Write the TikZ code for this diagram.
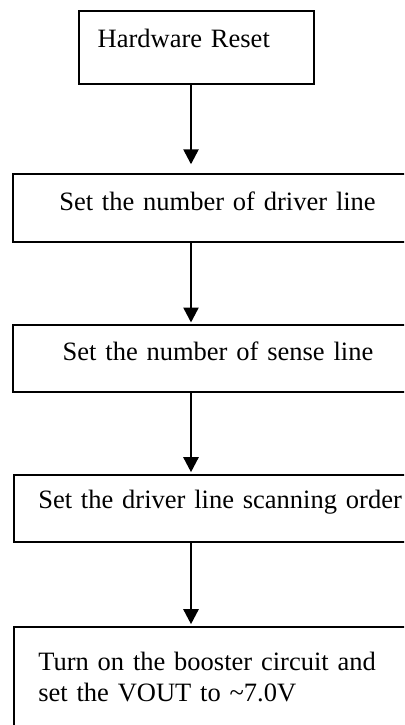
\documentclass[tikz,border=0pt]{standalone}
\usepackage{fontspec}
\setmainfont{Liberation Serif}
\usepackage{tikz}
\usetikzlibrary{arrows.meta}

\tikzset{
  stepbox/.style={draw,line width=2pt,anchor=north west,inner ysep=0pt,align=left,text width=380pt,
    font=\fontsize{26.5}{31}\selectfont},
  flow/.style={-{Triangle[length=15pt,width=15pt]},line width=2.5pt}
}

\begin{document}
\begin{tikzpicture}[x=1pt,y=-1pt]
      \path[use as bounding box,clip](0,0) rectangle (404,725);%枠
      \coordinate (spine) at (191,0);%矢印の軸
      \node[stepbox,inner xsep=19pt,text width=197pt,text height=36.7pt,text depth=36pt] (reset) at (77.7,10) {Hardware Reset};
      \node[stepbox,inner xsep=46.6pt,text height=36.2pt,text depth=31.5pt] (drvnum) at (11.7,173.3) {Set the number of driver line};
      \node[stepbox,inner xsep=50pt,text height=35.5pt,text depth=31.5pt] (sensenum) at (11.7,324) {Set the number of sense line};
      \node[stepbox,inner xsep=24pt,text height=33.3pt,text depth=34pt] (scanorder) at (13.3,473.7) {Set the driver line scanning order};
      \node[stepbox,inner xsep=24pt,text height=43.3pt,text depth=56pt] (booster) at (13.3,625.7) {Turn on the booster circuit and\\ set the VOUT to \textasciitilde7.0V};
      \draw[flow,shorten >=9pt](spine |- reset.south)--(spine |- drvnum.north);
      \draw[flow,shorten >=1.5pt](spine |- drvnum.south)--(spine |- sensenum.north);
      \draw[flow,shorten >=1.5pt](spine |- sensenum.south)--(spine |- scanorder.north);
      \draw[flow,shorten >=1.5pt](spine |- scanorder.south)--(spine |- booster.north);
    \end{tikzpicture}
\end{document}
